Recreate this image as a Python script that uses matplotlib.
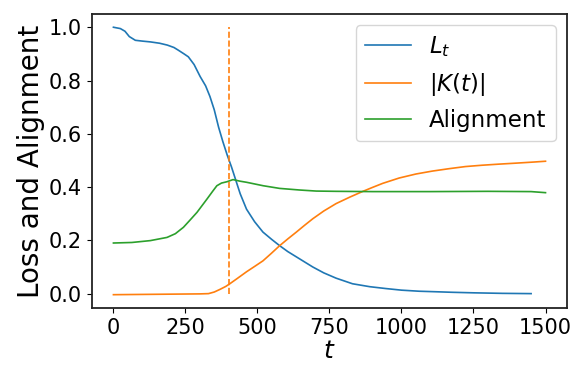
import numpy as np
import matplotlib
matplotlib.use('Agg')
import matplotlib.pyplot as plt

# values
t_loss = [0, 24, 40, 55, 76, 100, 128, 160, 187, 210, 225, 245, 260, 280, 301,
          320, 335, 350, 365, 380, 395, 410, 422, 440, 462, 490, 519, 550, 577,
          605, 635, 665, 692, 730, 773, 830, 890, 946, 1000, 1061, 1120, 1176,
          1250, 1350, 1450]
loss = [1.0, 0.995, 0.985, 0.965, 0.951, 0.948, 0.945, 0.94, 0.933, 0.924, 0.914,
        0.9, 0.889, 0.86, 0.815, 0.78, 0.74, 0.69, 0.625, 0.57, 0.52, 0.475,
        0.435, 0.375, 0.317, 0.27, 0.231, 0.203, 0.18, 0.158, 0.138, 0.118, 0.1,
        0.078, 0.058, 0.037, 0.026, 0.019, 0.013, 0.009, 0.007, 0.005, 0.003,
        0.001, 0.0]

t_k = [0, 100, 200, 300, 330, 350, 370, 390, 404, 430, 462, 490, 519, 548, 577,
       606, 635, 663, 692, 730, 773, 820, 864, 900, 935, 992, 1050, 1107, 1165,
       1222, 1280, 1337, 1400, 1460, 1500]
k_norm = [-0.004, -0.003, -0.002, -0.001, 0.0, 0.006, 0.016, 0.027, 0.037, 0.057,
          0.082, 0.102, 0.123, 0.151, 0.18, 0.206, 0.231, 0.256, 0.281, 0.31,
          0.338, 0.362, 0.383, 0.399, 0.414, 0.434, 0.449, 0.46, 0.469, 0.477,
          0.482, 0.486, 0.49, 0.494, 0.497]

t_align = [0, 64, 128, 186, 215, 243, 265, 290, 324, 345, 359, 375, 394, 415,
           440, 462, 520, 577, 646, 704, 773, 900, 1100, 1300, 1450, 1500]
align = [0.19, 0.192, 0.199, 0.211, 0.225, 0.249, 0.275, 0.305, 0.354, 0.385,
         0.405, 0.415, 0.42, 0.428, 0.422, 0.418, 0.405, 0.395, 0.389, 0.385,
         0.384, 0.383, 0.383, 0.384, 0.383, 0.379]

t_switch = 400

fig = plt.figure(figsize=(5.74, 3.65), dpi=100)
ax = fig.add_axes([0.160, 0.156, 0.828, 0.806])
ax.plot(t_loss, loss, lw=1.2, label=r'$L_t$')
ax.plot(t_k, k_norm, lw=1.2, label=r'$|K(t)|$')
ax.plot(t_align, align, lw=1.2, label='Alignment')
ax.plot([t_switch, t_switch], [0, 1], ls='--', color='C1', lw=1.2)
ax.set_xlabel(r'$t$', fontsize=18, labelpad=1)
ax.set_ylabel('Loss and Alignment', fontsize=20, labelpad=3)
ax.tick_params('both', labelsize=15)
ax.set_xticks([0, 250, 500, 750, 1000, 1250, 1500])
for sp in ax.spines.values():
    sp.set_linewidth(1.3)
    sp.set_color('#222222')
ax.legend(fontsize=16.5, loc='upper right')
fig.savefig('out.png', dpi=100)
